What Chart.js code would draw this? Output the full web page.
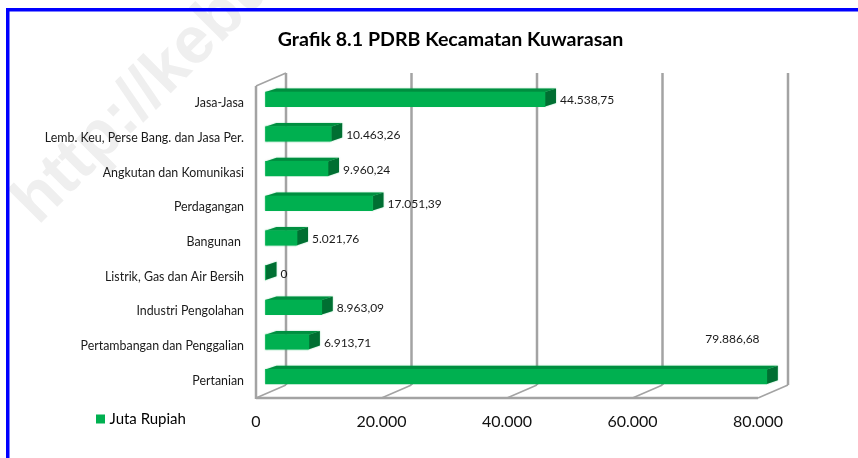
<!DOCTYPE html>
<html><head><meta charset="utf-8">
<style>html,body{margin:0;padding:0;background:#fff}canvas{display:block}</style>
<script src="https://cdn.jsdelivr.net/npm/chart.js@4"></script>
</head><body>
<canvas id="c" width="858" height="458"></canvas>
<script>
const categories = ["Jasa-Jasa","Lemb. Keu, Perse Bang. dan Jasa Per.","Angkutan dan Komunikasi","Perdagangan","Bangunan ","Listrik, Gas dan Air Bersih","Industri Pengolahan","Pertambangan dan Penggalian","Pertanian"];
const values = [44538.75,10463.26,9960.24,17051.39,5021.76,0,8963.09,6913.71,79886.68];
const valueLabels = ["44.538,75","10.463,26","9.960,24","17.051,39","5.021,76","0","8.963,09","6.913,71","79.886,68"];
const tickValues = [0,20000,40000,60000,80000];
const tickLabels = ["0","20.000","40.000","60.000","80.000"];
const seriesName = "Juta Rupiah";
const titleText = "Grafik 8.1 PDRB Kecamatan Kuwarasan";
const watermark = "http://kebu";

const FONT = "Lato, Carlito, sans-serif";
const DEPTH = {x:30, y:13}, BAR_SHIFT = {x:9.5, y:-4}, BAR_DEPTH = {x:11, y:3.7};

function poly(ctx, pts, fill){ ctx.beginPath(); pts.forEach((p,i)=> i?ctx.lineTo(p[0],p[1]):ctx.moveTo(p[0],p[1])); ctx.closePath(); ctx.fillStyle=fill; ctx.fill(); }
function line(ctx, x1,y1,x2,y2){ ctx.beginPath(); ctx.moveTo(x1,y1); ctx.lineTo(x2,y2); ctx.stroke(); }

const scene = {
  id:'scene',
  beforeDraw(chart){
    const ctx=chart.ctx;
    ctx.save();
    ctx.fillStyle='#fff'; ctx.fillRect(0,0,858,458);
    ctx.translate(38,226); ctx.rotate(-Math.PI/4);
    ctx.font='bold 66px "Liberation Sans", sans-serif'; ctx.fillStyle='#efefef';
    ctx.textBaseline='alphabetic'; ctx.textAlign='left';
    ctx.fillText(watermark,0,0);
    ctx.restore();
    ctx.save(); ctx.fillStyle='#0000ff';
    ctx.fillRect(6,8,852,3.5); ctx.fillRect(6,8,3.5,450);
    ctx.restore();
  },
  beforeDatasetsDraw(chart){
    const ctx=chart.ctx, a=chart.chartArea, xs=chart.scales.x;
    ctx.save(); ctx.strokeStyle='#a3a3a3'; ctx.lineCap='butt';
    tickValues.forEach(v=>{
      const px=xs.getPixelForValue(v);
      ctx.lineWidth=2.5;
      line(ctx, px+DEPTH.x, a.top-DEPTH.y, px+DEPTH.x, a.bottom-DEPTH.y);
      ctx.lineWidth=1.5;
      line(ctx, px, a.bottom, px+DEPTH.x, a.bottom-DEPTH.y);
    });
    ctx.lineWidth=2.5;
    line(ctx, a.left, a.top, a.left, a.bottom+1);
    line(ctx, a.left, a.bottom, a.right, a.bottom);
    ctx.lineWidth=1.5;
    line(ctx, a.left, a.top, a.left+DEPTH.x, a.top-DEPTH.y);
    ctx.restore();
    ctx.save(); ctx.translate(BAR_SHIFT.x,BAR_SHIFT.y);
    ctx.shadowColor='rgba(0,176,80,0.55)'; ctx.shadowBlur=1.5;
    chart.getDatasetMeta(0).data.forEach(el=>{
      const {x,y,base,height}=el.getProps(['x','y','base','height'],true);
      const t=y-height/2, b=y+height/2, d=BAR_DEPTH;
      poly(ctx,[[base,t],[base+d.x,t-d.y],[x+d.x,t-d.y],[x,t]],'#008f40');
      poly(ctx,[[x,t],[x+d.x,t-d.y],[x+d.x,b-d.y],[x,b]],'#006f32');
    });
  },
  afterDatasetsDraw(chart){
    const ctx=chart.ctx;
    ctx.restore();
    ctx.save();
    ctx.font='12px '+FONT; ctx.fillStyle='#1a1a1a'; ctx.textAlign='left'; ctx.textBaseline='middle';
    chart.getDatasetMeta(0).data.forEach((el,i)=>{
      const {x,y}=el.getProps(['x','y'],true);
      if(i===values.length-1) ctx.fillText(valueLabels[i], x-52, y-42);
      else ctx.fillText(valueLabels[i], x+BAR_SHIFT.x+BAR_DEPTH.x+4, y+BAR_SHIFT.y+1);
    });
    ctx.restore();
  },
  afterLayout(chart){
    chart.scales.y.left=0;
    const l=chart.legend;
    if(l){ l.left=96; l.right=200; l.top=408.5; l.bottom=430; l.width=104; l.height=21.5; }
  }
};

new Chart(document.getElementById('c'),{
  type:'bar',
  plugins:[scene],
  data:{labels:categories,datasets:[{label:seriesName,data:values,backgroundColor:'#00b050',borderWidth:0,barThickness:14.5,clip:false}]},
  options:{
    indexAxis:'y',responsive:false,animation:false,
    layout:{autoPadding:false,padding:{left:143,right:100,top:0,bottom:0}},
    scales:{
      x:{min:0,max:80000,
        afterBuildTicks(s){ s.ticks=tickValues.map(v=>({value:v})); },
        afterFit(s){ s.height=60; },
        grid:{display:false,drawTicks:false},border:{display:false},
        ticks:{padding:14,maxRotation:0,minRotation:0,autoSkip:false,color:'#111',font:{family:FONT,size:16},
          callback(v){ return tickLabels[tickValues.indexOf(v)]; }}},
      y:{afterFit(s){ s.width=113; },
        grid:{display:false,drawTicks:false},border:{display:false},
        ticks:{padding:12,autoSkip:false,color:'#1a1a1a',font:{family:FONT,size:12.4}}}
    },
    plugins:{
      tooltip:{enabled:false},
      title:{display:true,text:titleText,color:'#000',font:{family:FONT,size:19.6,weight:'bold',lineHeight:1.2},padding:{top:28,bottom:34.5}},
      legend:{display:true,position:'chartArea',align:'start',
        labels:{boxWidth:3,boxHeight:3,padding:3,color:'#111',font:{family:FONT,size:15},
          generateLabels:()=>[{text:seriesName,fillStyle:'#00b050',strokeStyle:'#00b050',lineWidth:6,datasetIndex:0,hidden:false}]}}
    }
  }
});
</script>
</body></html>
